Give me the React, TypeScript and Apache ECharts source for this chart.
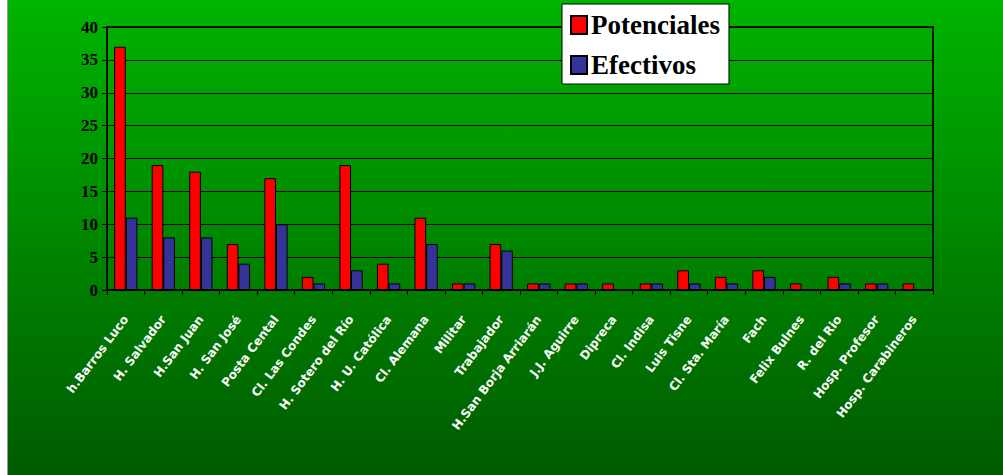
import React, { useEffect, useRef } from "react";
import * as echarts from "echarts";

const categories = [
  "h.Barros Luco",
  "H. Salvador",
  "H.San Juan",
  "H. San José",
  "Posta Cental",
  "Cl. Las Condes",
  "H. Sotero del Río",
  "H. U. Católica",
  "Cl. Alemana",
  "Militar",
  "Trabajador",
  "H.San Borja Arriarán",
  "J.J. Aguirre",
  "Dipreca",
  "Cl. Indisa",
  "Luis Tisne",
  "Cl. Sta. María",
  "Fach",
  "Felix Bulnes",
  "R. del Rio",
  "Hosp. Profesor",
  "Hosp. Carabineros",
];

const potenciales = [37, 19, 18, 7, 17, 2, 19, 4, 11, 1, 7, 1, 1, 1, 1, 3, 2, 3, 1, 2, 1, 1];
const efectivos = [11, 8, 8, 4, 10, 1, 3, 1, 7, 1, 6, 1, 1, 0, 1, 1, 1, 2, 0, 1, 1, 0];

const yTicks = [0, 5, 10, 15, 20, 25, 30, 35, 40];

export default function App() {
  const ref = useRef<HTMLDivElement>(null);

  useEffect(() => {
    if (!ref.current) return;
    const chart = echarts.init(ref.current, null, { renderer: "svg" });
    chart.setOption({
      animation: false,
      backgroundColor: new echarts.graphic.LinearGradient(0, 0, 0, 1, [
        { offset: 0, color: "#00b400" },
        { offset: 1, color: "#005a00" },
      ]),
      grid: {
        left: 99,
        right: 70,
        top: 27,
        bottom: 185,
        show: true,
        borderColor: "#0a1a0a",
        borderWidth: 2,
        backgroundColor: "transparent",
      },
      legend: {
        orient: "vertical",
        left: 554,
        top: 4,
        width: 163,
        backgroundColor: "#ffffff",
        borderColor: "#000000",
        borderWidth: 1,
        padding: [6, 9, 4, 8],
        itemGap: 10,
        itemWidth: 16,
        itemHeight: 18,
        icon: "rect",
        textStyle: {
          fontFamily: "Liberation Serif",
          fontWeight: "bold",
          fontSize: 27,
          color: "#000000",
          lineHeight: 30,
          padding: [0, 0, 0, -1],
        },
        data: ["Potenciales", "Efectivos"],
      },
      xAxis: {
        type: "category",
        data: categories,
        axisLine: { lineStyle: { color: "#000000", width: 2 } },
        axisTick: { show: true, length: 5, lineStyle: { color: "#000000" } },
        axisLabel: {
          interval: 0,
          rotate: 53,
          margin: 27,
          color: "#ffffff",
          fontFamily: "DejaVu Sans",
          fontWeight: "bold",
          fontSize: 12,
        },
        splitLine: { show: false },
      },
      yAxis: {
        type: "value",
        min: yTicks[0],
        max: yTicks[yTicks.length - 1],
        interval: 5,
        axisLine: { show: true, lineStyle: { color: "#000000", width: 1 } },
        axisTick: { show: true, length: 5, lineStyle: { color: "#000000" } },
        axisLabel: {
          color: "#000000",
          fontFamily: "Liberation Serif",
          fontWeight: "bold",
          fontSize: 17,
          margin: 9,
        },
        splitLine: { show: true, lineStyle: { color: "#000000", width: 1 } },
      },
      series: [
        {
          name: "Potenciales",
          type: "bar",
          data: potenciales,
          barGap: "0%",
          barCategoryGap: "38%",
          itemStyle: { color: "#ff0000", borderColor: "#000000", borderWidth: 1 },
        },
        {
          name: "Efectivos",
          type: "bar",
          data: efectivos,
          barGap: "0%",
          barCategoryGap: "38%",
          itemStyle: { color: "#333399", borderColor: "#000000", borderWidth: 1 },
        },
      ],
    });
    return () => chart.dispose();
  }, []);

  return (
    <div style={{ position: "absolute", left: 0, top: 0, width: 1003, height: 475, background: "#ffffff" }}>
      <div style={{ position: "absolute", left: 7, top: 0, width: 1, height: 475, background: "#9a9a9a" }} />
      <div ref={ref} style={{ position: "absolute", left: 8, top: 0, width: 995, height: 475 }} />
    </div>
  );
}
